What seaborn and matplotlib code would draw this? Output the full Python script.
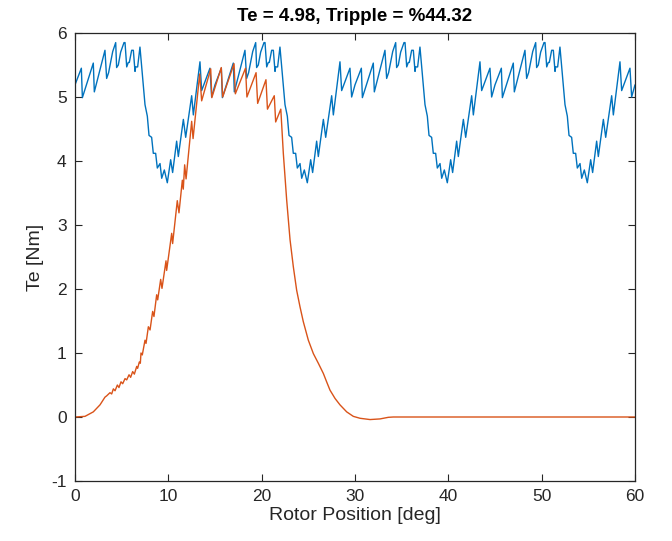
import numpy as np
import pandas as pd
import seaborn as sns
import matplotlib.pyplot as plt

# One electrical period (15 deg) of the total torque
period_deg = [0.00, 0.68, 0.79, 1.96, 2.07, 3.21, 3.39, 3.60, 4.04, 4.36, 4.46, 4.64,
              4.89, 5.25, 5.36, 5.54, 5.71, 5.82, 6.07, 6.25, 6.43, 6.50, 6.71, 6.96,
              7.50, 7.75, 7.93, 8.21, 8.39, 8.64, 8.82, 9.11, 9.29, 9.57, 9.89, 10.25,
              10.46, 10.89, 11.07, 11.61, 11.86, 12.50, 12.68, 13.39, 13.57, 14.46, 14.64]
period_te = [5.19, 5.45, 4.99, 5.53, 5.08, 5.73, 5.29, 5.38, 5.71, 5.85, 5.46, 5.50,
             5.70, 5.85, 5.85, 5.47, 5.54, 5.54, 5.73, 5.73, 5.40, 5.47, 5.47, 5.78,
             4.88, 4.70, 4.40, 4.37, 4.12, 4.12, 3.89, 3.96, 3.73, 3.86, 3.66, 4.02,
             3.82, 4.31, 4.07, 4.65, 4.37, 5.02, 4.72, 5.55, 5.10, 5.45, 5.00]
period_len = 15.0
n_periods = 4

# Single-phase torque
phase_deg = [0.00, 1.07, 1.96, 2.68, 3.21, 3.39, 3.75, 3.93, 4.11, 4.29, 4.54, 4.71,
             4.93, 5.11, 5.36, 5.54, 5.79, 5.96, 6.18, 6.36, 6.61, 6.71, 6.89, 7.00,
             7.07, 7.21, 7.50, 7.61, 7.86, 8.04, 8.32, 8.46, 8.75, 8.86, 9.18, 9.32,
             9.75, 9.82, 10.36, 10.46, 10.96, 11.14, 11.50, 11.60, 11.75, 11.90, 12.50,
             12.65, 13.36, 13.57, 14.54, 14.66, 15.67, 15.82, 17.04, 17.18, 18.27, 18.42,
             19.40, 19.57, 20.46, 20.62, 21.35, 21.50, 22.05, 22.32, 22.68, 23.04, 23.39,
             23.75, 24.11, 24.46, 25.00, 25.54, 26.07, 26.61, 26.96, 27.32, 27.86, 28.39,
             29.11, 29.82, 30.54, 31.61, 32.68, 33.57, 34.10, 60.00]
phase_te = [0.00, 0.01, 0.08, 0.19, 0.31, 0.33, 0.38, 0.36, 0.44, 0.41, 0.50, 0.46,
            0.55, 0.52, 0.60, 0.58, 0.66, 0.62, 0.71, 0.67, 0.79, 0.76, 0.86, 0.84,
            1.00, 0.97, 1.20, 1.15, 1.41, 1.36, 1.65, 1.57, 1.91, 1.83, 2.15, 2.01,
            2.44, 2.29, 2.87, 2.71, 3.38, 3.19, 3.70, 3.56, 3.94, 3.72, 4.62,
            4.35, 5.36, 4.94, 5.44, 4.99, 5.46, 5.00, 5.52, 5.05, 5.45, 5.00,
            5.38, 4.90, 5.27, 4.81, 5.02, 4.61, 4.81, 4.12, 3.39, 2.77, 2.35,
            1.98, 1.72, 1.49, 1.20, 0.99, 0.84, 0.68, 0.55, 0.42, 0.29, 0.19,
            0.08, 0.01, -0.02, -0.04, -0.03, -0.005, 0.00, 0.00]

title_text = "Te = 4.98, Tripple = %44.32"
x_label = "Rotor Position [deg]"
y_label = "Te [Nm]"
x_ticks = [0, 10, 20, 30, 40, 50, 60]
y_ticks = [-1, 0, 1, 2, 3, 4, 5, 6]

# build total torque series from the read period
tot_x, tot_y = [], []
for k in range(n_periods):
    for d, v in zip(period_deg, period_te):
        tot_x.append(d + k * period_len)
        tot_y.append(v)
tot_x.append(n_periods * period_len)
tot_y.append(period_te[0])

df_total = pd.DataFrame({"deg": tot_x, "te": tot_y})
df_phase = pd.DataFrame({"deg": phase_deg, "te": phase_te})

sns.set_theme(style="white")
plt.rcParams["font.family"] = ["Liberation Sans", "DejaVu Sans"]
plt.rcParams["axes.unicode_minus"] = False

fig = plt.figure(figsize=(6.72, 5.41), dpi=100)
ax = fig.add_axes([75 / 672, 1 - 481 / 541, 560 / 672, 448 / 541])

sns.lineplot(data=df_total, x="deg", y="te", ax=ax, color="#0072BD", lw=1.0,
             sort=False, estimator=None)
sns.lineplot(data=df_phase, x="deg", y="te", ax=ax, color="#D95319", lw=1.0,
             sort=False, estimator=None)

ax.set_xlim(0, 60)
ax.set_ylim(-1, 6)
ax.set_xticks(x_ticks)
ax.set_yticks(y_ticks)
ax.tick_params(direction="in", length=5, width=0.8, colors="#262626",
               labelsize=12.5, top=True, right=True, bottom=True, left=True, pad=6)
for lbl in ax.get_xticklabels() + ax.get_yticklabels():
    lbl.set_color("#262626")
for s in ax.spines.values():
    s.set_visible(True)
    s.set_color("#262626")
    s.set_linewidth(0.9)
ax.set_xlabel(x_label, fontsize=14, color="#262626", labelpad=2)
ax.set_ylabel(y_label, fontsize=14, color="#262626", labelpad=5)
ax.set_title(title_text, fontsize=13.5, fontweight="bold", color="black", pad=8.5)
ax.grid(False)

fig.savefig("out.png", dpi=100)
